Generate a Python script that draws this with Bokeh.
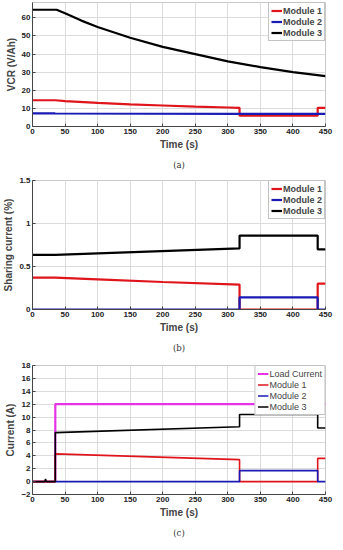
from bokeh.plotting import figure
from bokeh.layouts import column
from bokeh.models import Range1d, Legend, LegendItem, Title, FixedTicker
from bokeh.embed import file_html
from bokeh.resources import INLINE

# ---------------- data ----------------
# (a) VCR (V/Ah)
a_m1_t = [0, 35, 50, 100, 150, 200, 250, 300, 318, 318, 438, 438, 450]
a_m1_v = [14.5, 14.5, 14.0, 13.0, 12.2, 11.6, 11.0, 10.5, 10.3, 6.0, 6.0, 10.3, 10.3]
a_m2_t = [0, 35, 318, 450]
a_m2_v = [7.3, 7.2, 7.0, 7.0]
a_m3_t = [0, 37, 50, 75, 100, 150, 200, 250, 300, 350, 400, 450]
a_m3_v = [64.5, 64.5, 62.5, 58.5, 55.0, 49.0, 44.0, 40.0, 36.0, 32.8, 30.0, 27.8]

# (b) Sharing current (%)
b_m1_t = [0, 35, 100, 200, 318, 318, 438, 438, 450]
b_m1_v = [0.37, 0.37, 0.35, 0.32, 0.29, 0.0, 0.0, 0.30, 0.30]
b_m2_t = [0, 318, 318, 438, 438, 450]
b_m2_v = [0.0, 0.0, 0.14, 0.14, 0.0, 0.0]
b_m3_t = [0, 35, 318, 318, 438, 438, 450]
b_m3_v = [0.635, 0.635, 0.71, 0.86, 0.86, 0.70, 0.70]

# (c) Current (A)
c_load_t = [0, 35, 35, 450]
c_load_v = [0.0, 0.0, 12.0, 12.0]
c_m1_t = [0, 35, 35, 318, 318, 438, 438, 450]
c_m1_v = [0.0, 0.0, 4.3, 3.4, 0.0, 0.0, 3.6, 3.6]
c_m2_t = [35, 318, 318, 438, 438, 450]
c_m2_v = [0.0, 0.0, 1.7, 1.7, 0.0, 0.0]
c_m3_t = [0, 19, 20, 21, 35, 35, 318, 318, 438, 438, 450]
c_m3_v = [0.0, 0.0, 0.4, 0.0, 0.0, 7.6, 8.5, 10.4, 10.4, 8.3, 8.3]

x_ticks = [0, 50, 100, 150, 200, 250, 300, 350, 400, 450]

FONT = "Liberation Sans"
RED = "#e0141b"
BLUE = "#1a1ab4"
BLACK = "#000000"
MAGENTA = "#e633e6"


def make_fig(h, ymin, ymax, yticks, ylabel, caption, top, ylabel_overrides=None):
    p = figure(width=335, height=h, output_backend="svg", toolbar_location=None,
               x_range=Range1d(0, 450), y_range=Range1d(ymin, ymax),
               min_border_top=top, min_border_right=10, min_border_left=4, min_border_bottom=0)
    p.outline_line_color = "#c8c8c8"
    for ax in (p.xaxis[0], p.yaxis[0]):
        ax.axis_line_color = "#444444"
        ax.major_tick_line_color = "#444444"
        ax.major_tick_in = 3
        ax.major_tick_out = 0
        ax.minor_tick_line_color = None
        ax.major_label_text_font = FONT
        ax.major_label_text_font_style = "bold"
        ax.major_label_text_font_size = "8px"
        ax.major_label_text_color = "#222222"
        ax.major_label_standoff = 2
        ax.axis_label_text_font = FONT
        ax.axis_label_text_font_style = "bold"
        ax.axis_label_text_font_size = "10px"
        ax.axis_label_standoff = 2
    p.xaxis.ticker = FixedTicker(ticks=x_ticks)
    p.yaxis.ticker = FixedTicker(ticks=yticks)
    if ylabel_overrides:
        p.yaxis.major_label_overrides = ylabel_overrides
    p.xaxis.axis_label = "Time (s)"
    p.yaxis.axis_label = ylabel
    p.grid.grid_line_color = "#dcdcdc"
    p.grid.grid_line_width = 1
    p.add_layout(Title(text=caption, align="center", text_font="DejaVu Serif",
                       text_font_size="8.5px", text_font_style="normal",
                       text_color="#333333"), "below")
    return p


def add_legend(p, items, bold=True):
    leg = Legend(items=items, location="top_right", margin=0, padding=2, spacing=0,
                 label_text_font=FONT, label_text_font_size="9px",
                 label_text_font_style="bold" if bold else "normal",
                 label_height=11, glyph_height=11, glyph_width=11, label_standoff=1,
                 border_line_color="#888888", background_fill_alpha=1.0)
    p.add_layout(leg)


# (a)
pa = make_fig(174, 0, 68.5, [0, 10, 20, 30, 40, 50, 60], "VCR (V/Ah)", "(a)", 2)
ra1 = pa.line(a_m1_t, a_m1_v, color=RED, line_width=2.2)
ra2 = pa.line(a_m2_t, a_m2_v, color=BLUE, line_width=2.2)
ra3 = pa.line(a_m3_t, a_m3_v, color=BLACK, line_width=2.2)
add_legend(pa, [LegendItem(label="Module 1", renderers=[ra1]),
                LegendItem(label="Module 2", renderers=[ra2]),
                LegendItem(label="Module 3", renderers=[ra3])])

# (b)
pb = make_fig(183, 0, 1.5, [0, 0.5, 1, 1.5], "Sharing current (%)", "(b)", 6,
              {0: "0", 0.5: "0.5", 1: "1", 1.5: "1.5"})
rb1 = pb.line(b_m1_t, b_m1_v, color=RED, line_width=2.2)
rb2 = pb.line(b_m2_t, b_m2_v, color=BLUE, line_width=2.2)
rb3 = pb.line(b_m3_t, b_m3_v, color=BLACK, line_width=2.2)
add_legend(pb, [LegendItem(label="Module 1", renderers=[rb1]),
                LegendItem(label="Module 2", renderers=[rb2]),
                LegendItem(label="Module 3", renderers=[rb3])])

# (c)
pc = make_fig(185, -2, 18, list(range(-2, 19, 2)), "Current (A)", "(c)", 8)
rc0 = pc.line(c_load_t, c_load_v, color=MAGENTA, line_width=2.2)
rc1 = pc.line(c_m1_t, c_m1_v, color=RED, line_width=1.6)
rc2 = pc.line(c_m2_t, c_m2_v, color=BLUE, line_width=1.6)
rc3 = pc.line(c_m3_t, c_m3_v, color=BLACK, line_width=1.6)
add_legend(pc, [LegendItem(label="Load Current", renderers=[rc0]),
                LegendItem(label="Module 1", renderers=[rc1]),
                LegendItem(label="Module 2", renderers=[rc2]),
                LegendItem(label="Module 3", renderers=[rc3])], bold=False)

layout = column(pa, pb, pc, spacing=0)
open("out.html", "w").write(file_html(layout, INLINE))
